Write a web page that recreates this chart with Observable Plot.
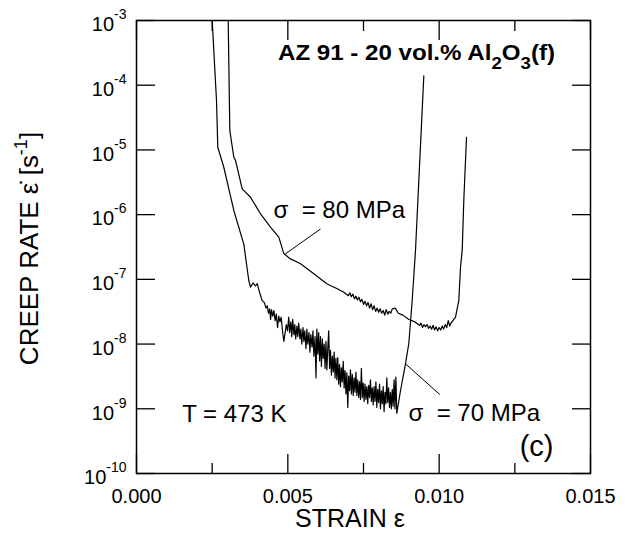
<!DOCTYPE html>
<html>
<head>
<meta charset="utf-8">
<script src="https://cdn.jsdelivr.net/npm/d3@7"></script>
<script src="https://cdn.jsdelivr.net/npm/@observablehq/plot@0.6"></script>
<style>
  html, body { margin: 0; padding: 0; background: #fff; }
  svg { display: block; }
</style>
</head>
<body>
<div id="chart"></div>
<script>
// ---- Data ----
const xMajor = [0, 0.005, 0.010, 0.015];
const xMinor = [0.0025, 0.0075, 0.0125];
const yTicks = [1e-10, 1e-9, 1e-8, 1e-7, 1e-6, 1e-5, 1e-4, 1e-3];

// sigma = 70 MPa curve
const strain70 = [0.002501,0.002643,0.002686,0.002884,0.003215,0.003545,0.003710,0.003766,0.00385,0.00393,0.003988,0.00407,0.004153,0.00422,0.00428,0.00432,0.00436,0.00440,0.00443,0.00446,0.00450,0.00454,0.00458,0.00462,0.00466,0.00470,0.00474,0.00478,0.00483,0.00487,0.00491,0.00495,0.00499,0.00503,0.00506,0.00510,0.00513,0.00516,0.00520,0.00523,0.00526,0.00530,0.00533,0.00536,0.00540,0.00543,0.00546,0.00550,0.00553,0.00556,0.00560,0.00563,0.00566,0.00570,0.00573,0.00576,0.00580,0.00583,0.00586,0.00590,0.00593,0.00596,0.00599,0.00602,0.00605,0.00608,0.00611,0.00614,0.00617,0.00620,0.00623,0.00626,0.00629,0.00632,0.00635,0.00638,0.00641,0.00644,0.00647,0.00650,0.00653,0.00656,0.00659,0.00662,0.00665,0.00668,0.00671,0.00674,0.00677,0.00680,0.00683,0.00686,0.00689,0.00692,0.00695,0.00698,0.00701,0.00704,0.00707,0.00710,0.00713,0.00716,0.00719,0.00722,0.00725,0.00728,0.00731,0.00734,0.00737,0.00740,0.00743,0.00746,0.00749,0.00752,0.00755,0.00758,0.00761,0.00764,0.00767,0.00770,0.00773,0.00776,0.00779,0.00782,0.00785,0.00788,0.00791,0.00794,0.00797,0.00800,0.00803,0.00806,0.00809,0.00812,0.00815,0.00818,0.00821,0.00824,0.00827,0.00830,0.00833,0.00836,0.00839,0.00842,0.00845,0.00848,0.00851,0.00854,0.00857,0.00860,0.008722,0.008888,0.008997,0.009109,0.009218,0.009493];
const rate70 = [1e-3,5.8e-5,1.1e-5,5.4e-6,1.16e-6,3.5e-7,9.6e-8,7.6e-8,8.8e-8,7.9e-8,8.6e-8,6.2e-8,4.7e-8,4.4e-8,3.6e-8,3.9e-8,3.0e-8,3.5e-8,2.4e-8,3.4e-8,2.7e-8,3.3e-8,2.3e-8,2.9e-8,1.8e-8,2.7e-8,2.2e-8,2.6e-8,1.5e-8,1.1e-8,1.5e-8,2.0e-8,1.6e-8,2.6e-8,1.5e-8,2.2e-8,1.3e-8,2.4e-8,1.4e-8,2.0e-8,1.2e-8,1.9e-8,1.3e-8,2.1e-8,1.2e-8,1.7e-8,1.0e-8,1.8e-8,1.1e-8,1.6e-8,8.5e-9,1.7e-8,1.0e-8,1.5e-8,7.5e-9,1.4e-8,9.0e-9,1.6e-8,6.5e-9,1.3e-8,3.0e-9,1.7e-8,7.0e-9,1.5e-8,5.5e-9,1.3e-8,4.5e-9,1.2e-8,6.0e-9,1.0e-8,4.2e-9,1.1e-8,4.0e-9,8.5e-9,1.6e-8,4.2e-9,8.0e-9,3.3e-9,6.5e-9,3.7e-9,7.5e-9,3.0e-9,6.0e-9,2.8e-9,6.2e-9,2.4e-9,4.8e-9,2.2e-9,4.3e-9,2.6e-9,5.4e-9,2.1e-9,3.9e-9,1.7e-9,3.6e-9,1.05e-9,3.2e-9,1.9e-9,4.0e-9,1.7e-9,3.4e-9,1.6e-9,3.0e-9,1.8e-9,3.7e-9,1.6e-9,2.8e-9,1.5e-9,2.6e-9,1.4e-9,4.2e-9,1.5e-9,2.5e-9,1.3e-9,2.4e-9,1.4e-9,2.2e-9,1.2e-9,2.3e-9,1.5e-9,2.8e-9,1.3e-9,2.1e-9,1.15e-9,2.2e-9,1.3e-9,2.6e-9,1.05e-9,2.0e-9,1.25e-9,2.4e-9,1.0e-9,1.9e-9,1.2e-9,2.2e-9,9.0e-10,1.8e-9,1.2e-9,3.0e-9,1.25e-9,2.1e-9,1.05e-9,1.8e-9,1.0e-9,2.0e-9,1.1e-9,2.8e-9,1.0e-9,3.1e-9,8.5e-10,1.9e-9,5.0e-9,1.02e-8,4.7e-8,2.8e-7,1.4e-4];

// sigma = 80 MPa curve
const strain80 = [0.003030,0.003083,0.003215,0.003271,0.003492,0.003767,0.004097,0.004427,0.004702,0.004867,0.005088,0.005419,0.005858,0.006301,0.00660,0.00685,0.00700,0.00705,0.00710,0.00715,0.00720,0.00725,0.00730,0.00735,0.00740,0.00745,0.00750,0.00755,0.00760,0.00765,0.00770,0.00775,0.00780,0.00785,0.00790,0.00795,0.00800,0.00805,0.00810,0.00815,0.00820,0.00825,0.00830,0.00835,0.00840,0.00845,0.00855,0.00865,0.00880,0.00900,0.00920,0.00935,0.00940,0.00945,0.00950,0.00955,0.00960,0.00965,0.00970,0.00975,0.00980,0.00985,0.00990,0.00995,0.01000,0.01005,0.01010,0.01015,0.01020,0.01025,0.01030,0.01035,0.010374,0.010540,0.010649,0.010705,0.010761,0.010814,0.010903];
const rate80 = [1e-3,2.0e-5,7.7e-6,6.9e-6,2.5e-6,1.86e-6,1.03e-6,6.4e-7,4.5e-7,2.5e-7,2.07e-7,1.74e-7,1.22e-7,8.5e-8,7.3e-8,6.3e-8,5.6e-8,6.2e-8,5.4e-8,5.9e-8,5.0e-8,5.5e-8,4.8e-8,5.3e-8,4.5e-8,4.9e-8,4.1e-8,4.6e-8,3.9e-8,4.4e-8,3.6e-8,4.2e-8,3.4e-8,3.9e-8,3.2e-8,3.6e-8,3.1e-8,3.5e-8,3.0e-8,3.3e-8,2.8e-8,3.4e-8,2.9e-8,3.2e-8,3.0e-8,3.5e-8,3.6e-8,3.0e-8,2.8e-8,2.4e-8,2.2e-8,1.95e-8,2.1e-8,1.8e-8,2.0e-8,1.85e-8,2.0e-8,1.75e-8,1.9e-8,1.7e-8,1.95e-8,1.65e-8,1.85e-8,1.6e-8,1.8e-8,1.65e-8,1.9e-8,1.7e-8,2.0e-8,1.8e-8,2.3e-8,1.9e-8,2.05e-8,2.6e-8,4.7e-8,1.54e-7,2.8e-7,1.65e-6,1.56e-5];

// leader lines (start near label, end on curve)
const leaderX1 = [0.006079, 0.010021];
const leaderY1 = [6.0e-7, 1.66e-9];
const leaderX2 = [0.004890, 0.008888];
const leaderY2 = [2.42e-7, 4.95e-9];

// text annotations (left-anchored)
const noteText = ["\u03c3  = 80 MPa", "\u03c3  = 70 MPa", "T = 473 K"];
const noteX = [0.004526, 0.008987, 0.00151];
const noteY = [1.16e-6, 8.45e-10, 8.15e-10];
// panel letter (right-anchored)
const panelText = ["(c)"];
const panelX = [0.013778];
const panelY = [2.6e-10];

const titleParts = [["AZ 91 - 20 vol.% Al", 0], ["2", 1], ["O", 0], ["3", 1], ["(f)", 0]];
const titleX = 0.004692, titleY = 1e-3;

// ---- Build ----
const W = 625, H = 533, mL = 136, mR = 35, mT = 20, mB = 60;
const FONT = "'Liberation Sans', Arial, Helvetica, sans-serif";

const d70 = strain70.map((s, i) => ({s, r: rate70[i]}));
const d80 = strain80.map((s, i) => ({s, r: rate80[i]}));
const leaders = leaderX1.map((x1, i) => ({x1, y1: leaderY1[i], x2: leaderX2[i], y2: leaderY2[i]}));
const notes = noteText.map((t, i) => ({t, x: noteX[i], y: noteY[i]}));
const panel = panelText.map((t, i) => ({t, x: panelX[i], y: panelY[i]}));

const tickStyle = {stroke: "black", strokeWidth: 1.3, fill: "none", label: null};

const plot = Plot.plot({
  width: W, height: H,
  marginLeft: mL, marginRight: mR, marginTop: mT, marginBottom: mB,
  style: {fontFamily: FONT, background: "white", color: "black", overflow: "visible"},
  x: {domain: [0, 0.015]},
  y: {type: "log", domain: [1e-10, 1e-3]},
  marks: [
    // inward ticks on all four sides
    Plot.axisX({anchor: "bottom", ticks: xMajor, tickSize: -19, ...tickStyle}),
    Plot.axisX({anchor: "top", ticks: xMajor, tickSize: -19, ...tickStyle}),
    Plot.axisX({anchor: "bottom", ticks: xMinor, tickSize: -10, ...tickStyle}),
    Plot.axisX({anchor: "top", ticks: xMinor, tickSize: -10, ...tickStyle}),
    Plot.axisY({anchor: "left", ticks: yTicks, tickSize: -19, ...tickStyle}),
    Plot.axisY({anchor: "right", ticks: yTicks, tickSize: -19, ...tickStyle}),
    // tick labels
    Plot.axisX({ticks: xMajor, tickSize: 0, tickPadding: 15, tickFormat: d3.format(".3f"), fontSize: 20, label: null}),
    Plot.axisY({ticks: yTicks, tickSize: 0, tickPadding: 10, tickFormat: d => String(Math.round(Math.log10(d))), fontSize: 20, label: null}),
    Plot.line(d70, {x: "s", y: "r", stroke: "black", strokeWidth: 1.2, clip: true}),
    Plot.line(d80, {x: "s", y: "r", stroke: "black", strokeWidth: 1.2, clip: true}),
    Plot.link(leaders, {x1: "x1", y1: "y1", x2: "x2", y2: "y2", stroke: "black", strokeWidth: 1}),
    Plot.text(notes, {x: "x", y: "y", text: "t", textAnchor: "start", fontSize: 24, fill: "black"}),
    Plot.text(panel, {x: "x", y: "y", text: "t", textAnchor: "end", fontSize: 29, fill: "black"}),
    Plot.frame({stroke: "black", strokeWidth: 1.5})
  ]
});

document.getElementById("chart").appendChild(plot);
const svg = d3.select(plot);

// y tick labels as 10 with superscript exponent
svg.selectAll('g[aria-label="y-axis tick label"] text').each(function () {
  const t = d3.select(this);
  const e = t.text();
  t.text(null);
  t.append("tspan").attr("dy", "0.22em").attr("font-size", 20).text("10");
  t.append("tspan").attr("dy", "-12").attr("font-size", 14).text(e);
});

// Title annotation with subscripts
const xs = plot.scale("x"), ys = plot.scale("y");
const title = svg.append("text")
  .attr("x", xs.apply(titleX)).attr("y", ys.apply(titleY) + 40)
  .attr("text-anchor", "start")
  .attr("font-family", FONT).attr("font-weight", "bold").attr("font-size", 22)
  .attr("textLength", 277).attr("lengthAdjust", "spacingAndGlyphs")
  .attr("fill", "black");
let prev = 0;
for (const [s, sub] of titleParts) {
  const shift = sub ? 9 : 0;
  title.append("tspan").attr("dy", shift - prev).attr("font-size", sub ? 17 : 22).text(s);
  prev = shift;
}

// Axis titles
const yt = svg.append("text")
  .attr("transform", `translate(38,${mT + (H - mT - mB) / 2 + 2}) rotate(-90)`)
  .attr("text-anchor", "middle").attr("font-family", FONT).attr("font-size", 26).attr("fill", "black");
yt.append("tspan").text("CREEP RATE \u03b5\u0307 [s");
yt.append("tspan").attr("dy", -11).attr("font-size", 18).text("-1");
yt.append("tspan").attr("dy", 11).text("]");

svg.append("text")
  .attr("x", 350).attr("y", 527)
  .attr("text-anchor", "middle").attr("font-family", FONT).attr("font-size", 25).attr("fill", "black")
  .text("STRAIN \u03b5");
</script>
</body>
</html>
